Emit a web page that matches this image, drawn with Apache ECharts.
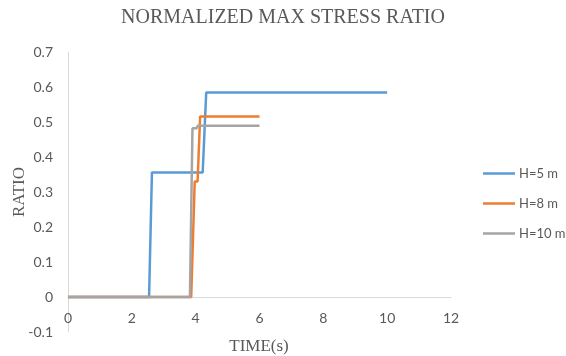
<!DOCTYPE html>
<html>
<head>
<meta charset="utf-8">
<script src="https://cdn.jsdelivr.net/npm/echarts@6/dist/echarts.min.js"></script>
<style>
  html, body { margin: 0; padding: 0; background: #fff; }
  #chart { width: 566px; height: 356px; }
</style>
</head>
<body>
<div id="chart"></div>
<script>
// Time (s) and normalized max stress ratio for each wall height
const h5Time  = [0, 2.54, 2.63, 4.22, 4.33, 10];
const h5Ratio = [0, 0, 0.356, 0.356, 0.584, 0.584];

const h8Time  = [0, 3.86, 3.97, 4.06, 4.14, 6];
const h8Ratio = [0, 0, 0.33, 0.33, 0.516, 0.516];

const h10Time  = [0, 3.82, 3.90, 4.03, 4.06, 6];
const h10Ratio = [0, 0, 0.482, 0.482, 0.489, 0.489];

const seriesNames = ['H=5 m', 'H=8 m', 'H=10 m'];
const seriesColors = ['#5B9BD5', '#ED7D31', '#A5A5A5'];

const titleText = 'NORMALIZED MAX STRESS RATIO';
const xName = 'TIME(s)';
const yName = 'RATIO';

function pairs(t, r) { return t.map((v, i) => [v, r[i]]); }

const dataSets = [pairs(h5Time, h5Ratio), pairs(h8Time, h8Ratio), pairs(h10Time, h10Ratio)];

const labelFont = 'Lato, "Open Sans", sans-serif';
const serif = '"Liberation Serif", "DejaVu Serif", serif';

const gridTop = 52, gridBottom = 24;
const plotHeight = 356 - gridTop - gridBottom;
const yMin = -0.1, yMax = 0.7;
// lift the time axis from the bottom edge up to ratio = 0
const zeroOffset = -plotHeight * (0 - yMin) / (yMax - yMin);

const chart = echarts.init(document.getElementById('chart'));
chart.setOption({
  animation: false,
  backgroundColor: '#fff',
  grid: { left: 68, right: 115, top: gridTop, bottom: gridBottom, containLabel: false, outerBoundsMode: 'none' },
  xAxis: {
    type: 'value', min: 0, max: 12, interval: 2,
    position: 'bottom', offset: zeroOffset,
    axisLine: { onZero: false, lineStyle: { color: '#D9D9D9', width: 1 } },
    axisTick: { show: false },
    splitLine: { show: false },
    axisLabel: { color: '#595959', fontFamily: labelFont, fontSize: 14, margin: 14 }
  },
  yAxis: {
    type: 'value', min: yMin, max: yMax, interval: 0.1,
    axisLine: { show: true, onZero: false, lineStyle: { color: '#D9D9D9', width: 1 } },
    axisTick: { show: false },
    splitLine: { show: false },
    axisLabel: {
      color: '#595959', fontFamily: labelFont, fontSize: 14, margin: 15,
      formatter: v => (Math.round(v * 10) / 10).toString()
    }
  },
  legend: {
    orient: 'vertical', left: 483, top: 167, itemGap: 17, padding: 0,
    icon: 'rect', itemWidth: 32, itemHeight: 2.5,
    textStyle: { color: '#595959', fontFamily: labelFont, fontSize: 13, padding: [0, 0, 0, -1] },
    data: seriesNames
  },
  graphic: [
    { type: 'text', x: 283, y: 18,
      style: { text: titleText, fill: '#595959', font: '20px ' + serif, textAlign: 'center', textVerticalAlign: 'middle' } },
    { type: 'text', x: 20, y: 192, rotation: Math.PI / 2,
      style: { text: yName, fill: '#595959', font: '17px ' + serif, textAlign: 'center', textVerticalAlign: 'middle' } },
    { type: 'text', x: 259, y: 347,
      style: { text: xName, fill: '#595959', font: '17px ' + serif, textAlign: 'center', textVerticalAlign: 'middle' } }
  ],
  series: seriesNames.map((name, i) => ({
    name, type: 'line', data: dataSets[i],
    symbol: 'none', smooth: false,
    lineStyle: { color: seriesColors[i], width: 2.5 },
    itemStyle: { color: seriesColors[i] }
  }))
});
</script>
</body>
</html>
